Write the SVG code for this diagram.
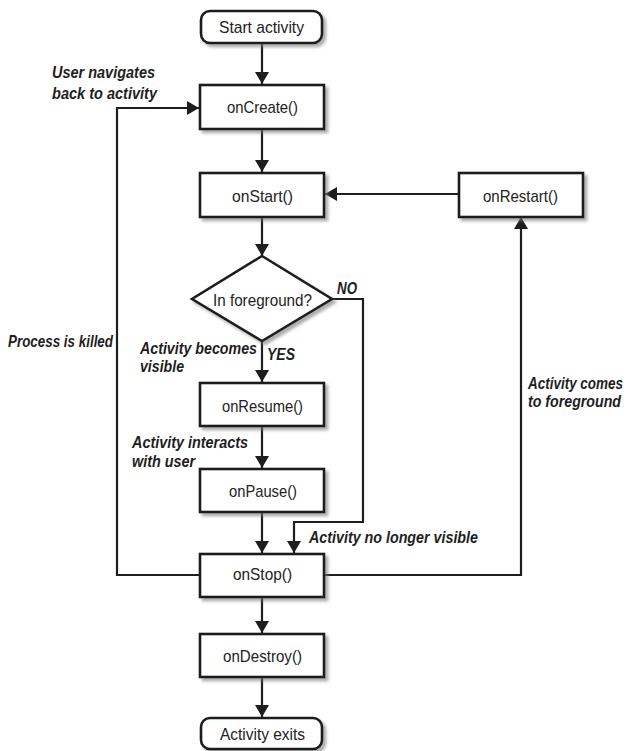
<svg xmlns="http://www.w3.org/2000/svg" width="630" height="751" viewBox="0 0 630 751">
<defs>
<filter id="sh" x="-10%" y="-20%" width="130%" height="160%">
<feDropShadow dx="3" dy="3" stdDeviation="1.6" flood-color="#777" flood-opacity="0.6"/>
</filter>
<marker id="ah" markerUnits="userSpaceOnUse" markerWidth="13" markerHeight="15" refX="12" refY="7" orient="auto">
<path d="M0,0 L12,7 L0,14 z" fill="#1e1e1e"/>
</marker>
<style>
.box{fill:#fff;stroke:#1e1e1e;stroke-width:2.6;filter:url(#sh)}
.nt{font-family:"Liberation Sans",Arial,sans-serif;font-size:17px;fill:#222;text-anchor:start}
.lb{font-family:"Liberation Sans",Arial,sans-serif;font-size:16.5px;font-weight:bold;font-style:italic;fill:#1e1e1e}
.c{fill:none;stroke:#1e1e1e;stroke-width:2.2}
</style>
</defs>
<rect width="630" height="751" fill="#fff"/>

<g id="connectors">
<path class="c" d="M262,43 V84" marker-end="url(#ah)"/>
<path class="c" d="M262,129 V172" marker-end="url(#ah)"/>
<path class="c" d="M262,217 V256" marker-end="url(#ah)"/>
<path class="c" d="M458,194 H325" marker-end="url(#ah)"/>
<path class="c" d="M262,341 V382" marker-end="url(#ah)"/>
<path class="c" d="M262,426 V468" marker-end="url(#ah)"/>
<path class="c" d="M262,512 V553" marker-end="url(#ah)"/>
<path class="c" d="M332,299 H363 V522 H294 V553" marker-end="url(#ah)"/>
<path class="c" d="M262,597 V633" marker-end="url(#ah)"/>
<path class="c" d="M262,677 V717" marker-end="url(#ah)"/>
<path class="c" d="M199,575 H117 V108 H199" marker-end="url(#ah)"/>
<path class="c" d="M324,575 H521 V217" marker-end="url(#ah)"/>
</g>

<g id="start">
<rect class="box" x="201" y="11" width="121" height="32" rx="9"/>
<text class="nt" x="219" y="33" textLength="85" lengthAdjust="spacingAndGlyphs">Start activity</text>
</g>
<g id="onCreate">
<rect class="box" x="200" y="85" width="124" height="44"/>
<text class="nt" x="227" y="113" textLength="71" lengthAdjust="spacingAndGlyphs">onCreate()</text>
</g>
<g id="onStart">
<rect class="box" x="200" y="173" width="124" height="44"/>
<text class="nt" x="232" y="202" textLength="61" lengthAdjust="spacingAndGlyphs">onStart()</text>
</g>
<g id="onRestart">
<rect class="box" x="459" y="173" width="124" height="44"/>
<text class="nt" x="483" y="202" textLength="75" lengthAdjust="spacingAndGlyphs">onRestart()</text>
</g>
<g id="foreground">
<polygon class="box" points="262,256 332,299 262,341 192,299"/>
<text class="nt" x="213" y="306" textLength="99" lengthAdjust="spacingAndGlyphs">In foreground?</text>
</g>
<g id="onResume">
<rect class="box" x="200" y="383" width="124" height="43"/>
<text class="nt" x="222" y="412" textLength="81" lengthAdjust="spacingAndGlyphs">onResume()</text>
</g>
<g id="onPause">
<rect class="box" x="200" y="469" width="124" height="43"/>
<text class="nt" x="229" y="497" textLength="68" lengthAdjust="spacingAndGlyphs">onPause()</text>
</g>
<g id="onStop">
<rect class="box" x="200" y="554" width="124" height="43"/>
<text class="nt" x="233" y="580" textLength="59" lengthAdjust="spacingAndGlyphs">onStop()</text>
</g>
<g id="onDestroy">
<rect class="box" x="200" y="634" width="124" height="43"/>
<text class="nt" x="223" y="662" textLength="79" lengthAdjust="spacingAndGlyphs">onDestroy()</text>
</g>
<g id="exits">
<rect class="box" x="201" y="718" width="121" height="31" rx="9"/>
<text class="nt" x="220" y="740" textLength="85" lengthAdjust="spacingAndGlyphs">Activity exits</text>
</g>

<g id="labels">
<text class="lb" transform="translate(52,78) scale(0.8,1)" textLength="128.75" lengthAdjust="spacingAndGlyphs">User navigates</text>
<text class="lb" transform="translate(52,99) scale(0.8,1)" textLength="131.25" lengthAdjust="spacingAndGlyphs">back to activity</text>
<text class="lb" transform="translate(337,294) scale(0.8,1)" textLength="25" lengthAdjust="spacingAndGlyphs">NO</text>
<text class="lb" transform="translate(8,347) scale(0.8,1)" textLength="131.25" lengthAdjust="spacingAndGlyphs">Process is killed</text>
<text class="lb" transform="translate(140,354) scale(0.8,1)" textLength="146.25" lengthAdjust="spacingAndGlyphs">Activity becomes</text>
<text class="lb" transform="translate(140,372) scale(0.8,1)" textLength="55" lengthAdjust="spacingAndGlyphs">visible</text>
<text class="lb" transform="translate(267,360) scale(0.8,1)" textLength="35" lengthAdjust="spacingAndGlyphs">YES</text>
<text class="lb" transform="translate(132,448) scale(0.8,1)" textLength="145" lengthAdjust="spacingAndGlyphs">Activity interacts</text>
<text class="lb" transform="translate(132,467) scale(0.8,1)" textLength="78.75" lengthAdjust="spacingAndGlyphs">with user</text>
<text class="lb" transform="translate(309,543) scale(0.8,1)" textLength="211.25" lengthAdjust="spacingAndGlyphs">Activity no longer visible</text>
<text class="lb" transform="translate(528,389) scale(0.8,1)" textLength="118.75" lengthAdjust="spacingAndGlyphs">Activity comes</text>
<text class="lb" transform="translate(528,407) scale(0.8,1)" textLength="116.25" lengthAdjust="spacingAndGlyphs">to foreground</text>
</g>
</svg>
